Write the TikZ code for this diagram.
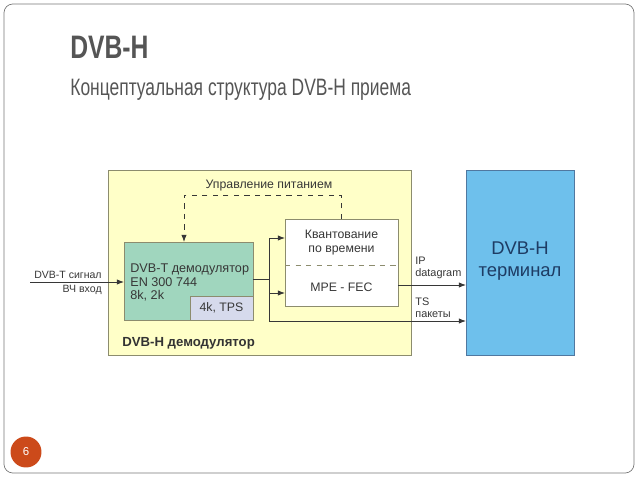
\documentclass[tikz,border=0pt]{standalone}
\usepackage{fontspec}
\setmainfont{Liberation Sans}
\newfontfamily\headfont[FakeStretch=0.76]{Liberation Sans}
\newfontfamily\subheadfont[FakeStretch=0.735]{Liberation Sans}
\usepackage{tikz}
\usepackage{xcolor}
\usetikzlibrary{arrows.meta}

\definecolor{framegray}{RGB}{120,120,120}
\definecolor{headgray}{RGB}{85,85,85}
\definecolor{txtgray}{RGB}{55,55,55}
\definecolor{demodyellow}{RGB}{255,255,200}
\definecolor{demodedge}{RGB}{140,140,110}
\definecolor{dvbtgreen}{RGB}{160,214,190}
\definecolor{tpsblue}{RGB}{214,218,236}
\definecolor{termblue}{RGB}{110,192,236}
\definecolor{termedge}{RGB}{80,120,160}
\definecolor{termtext}{RGB}{30,60,100}
\definecolor{pageorange}{RGB}{204,74,26}

\tikzset{
    blk/.style={draw, inner sep=0pt, outer sep=0pt},
    lbl/.style={font=\fontsize{6}{7}\selectfont, text=txtgray, inner sep=0pt},
    arr/.style={-{Latex[length=4pt,width=3pt]}, line width=0.5pt, txtgray}
}

\begin{document}
\begin{tikzpicture}[x=0.02cm, y=-0.02cm]
    \useasboundingbox (0,0) rectangle (640,480);

    % Slide frame and heading
    \draw[framegray, rounded corners=5pt] (4,4) rectangle (634,473);
    \node[anchor=base west, inner sep=0pt, text=headgray, font=\headfont\fontsize{18.5}{20}\selectfont\bfseries] (title) at (70,58) {DVB-H};
    \node[anchor=base west, inner sep=0pt, text=headgray, font=\subheadfont\fontsize{13.5}{15}\selectfont] (subtitle) at (70,95) {Концептуальная структура DVB-H приема};

    % Blocks
    \node[blk, draw=demodedge, fill=demodyellow, minimum width=6.06cm, minimum height=3.7cm] (demod) at (259.5,262.5) {};
    \node[blk, draw=demodedge, fill=dvbtgreen, minimum width=2.58cm, minimum height=1.56cm] (dvbt) at (188.5,281) {};
    \node[blk, draw=demodedge, fill=tpsblue, minimum width=1.26cm, minimum height=0.48cm, font=\fontsize{7}{8}\selectfont, text=txtgray] (tps) at (221.5,308) {4k, TPS};
    \node[blk, draw=demodedge, fill=white, minimum width=2.26cm, minimum height=1.74cm] (quant) at (341.5,262.5) {};
    \node[blk, draw=termedge, fill=termblue, minimum width=2.16cm, minimum height=3.7cm] (term) at (520,262.5) {};

    % Texts in the blocks
    \node[anchor=west, align=left, inner sep=0pt, text=txtgray, font=\fontsize{7.2}{7.6}\selectfont] (dvbttxt) at (130,282.5) {DVB-T демодулятор\\EN 300 744\\8k, 2k};
    \node[align=center, inner sep=0pt, text=txtgray, font=\fontsize{7}{7.6}\selectfont] (quanttxt) at (341.5,242.5) {Квантование\\по времени};
    \node[inner sep=0pt, text=txtgray, font=\fontsize{7}{8}\selectfont] (fectxt) at (341.5,287) {MPE - FEC};
    \draw[dashed, demodedge] (quant.west |- 0,265) -- (quant.east |- 0,265);
    \node[anchor=west, inner sep=0pt, text=black!80, font=\fontsize{7.5}{8}\selectfont\bfseries] (demodtxt) at (122,343) {DVB-H демодулятор};
    \node[align=center, inner sep=0pt, text=termtext, font=\fontsize{10.5}{12.5}\selectfont] (termtxt) at (520,261) {DVB-H\\терминал};

    % Power control loop
    \coordinate (pw) at (184,195);
    \draw[arr, dashed] (quant.north) |- (pw) -- (pw |- dvbt.north);
    \node[lbl, anchor=south, font=\fontsize{7}{8}\selectfont] (pwtxt) at (269,191) {Управление питанием};

    % Input signal
    \coordinate (in) at (30,282);
    \draw[arr] (in) -- (in -| dvbt.west);
    \node[lbl, anchor=south east] (intop) at (102,279) {DVB-T сигнал};
    \node[lbl, anchor=north east] (inbot) at (102,285) {ВЧ вход};

    % Stream branches
    \coordinate (up) at (269,238);
    \coordinate (lo) at (269,293);
    \coordinate (ts) at (269,321);
    \coordinate (ip) at (398,285);
    \draw[line width=0.5pt, txtgray] (dvbt.east |- 0,279) -- (269,279);
    \draw[line width=0.5pt, txtgray] (up) -- (ts);
    \draw[arr] (up) -- (up -| quant.west);
    \draw[arr] (lo) -- (lo -| quant.west);
    \draw[arr] (ts) -- (ts -| term.west);
    \draw[arr] (ip) -- (ip -| term.west);

    % Output labels
    \node[lbl, anchor=west, align=left, font=\fontsize{6.2}{7}\selectfont] (iptxt) at (415,268) {IP\\datagram};
    \node[lbl, anchor=west, align=left, font=\fontsize{6.2}{7}\selectfont] (tstxt) at (415,308) {TS\\пакеты};

    % Page number
    \node[circle, fill=pageorange, minimum size=0.62cm, inner sep=0pt, text=white, font=\fontsize{6.5}{7}\selectfont] (page) at (26,452) {6};
\end{tikzpicture}
\end{document}
